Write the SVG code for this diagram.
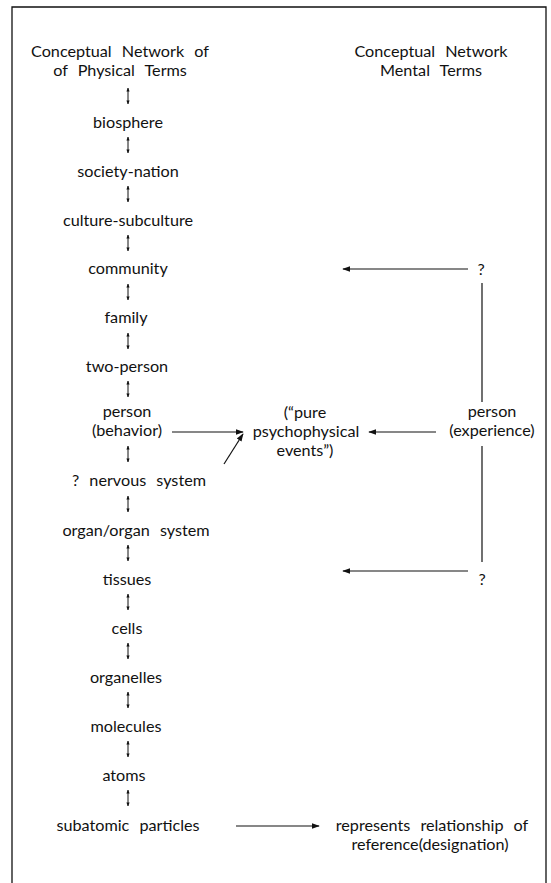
<svg xmlns="http://www.w3.org/2000/svg" width="551" height="883" viewBox="0 0 551 883">
<defs>
<marker id="ah" viewBox="0 0 10 10" refX="9" refY="5" markerWidth="8" markerHeight="8" markerUnits="userSpaceOnUse" orient="auto-start-reverse">
<path d="M0,1.5 L10,5 L0,8.5 z" fill="#111"/>
</marker>
<marker id="sm" viewBox="0 0 10 10" refX="9" refY="5" markerWidth="4" markerHeight="4" markerUnits="userSpaceOnUse" orient="auto-start-reverse">
<path d="M0,1 L10,5 L0,9 z" fill="#111"/>
</marker>
</defs>
<style>
text{font-family:Lato,"Open Sans",sans-serif;font-size:16.2px;fill:#111;text-anchor:middle;word-spacing:6px}
.ln{stroke:#111;stroke-width:1.2;fill:none}
.va{stroke:#111;stroke-width:1;fill:none}
.frame{stroke:#111;stroke-width:1.3;fill:none}
</style>
<rect width="551" height="883" fill="#fff"/>
<path class="frame" d="M12,884 L12,7 L546,7 L546,884"/>

<g id="hdr-physical"><text x="120" y="57">Conceptual Network of</text><text x="120" y="76">of Physical Terms</text></g>
<g id="hdr-mental"><text x="431" y="57">Conceptual Network</text><text x="431" y="76">Mental Terms</text></g>

<g id="n-biosphere"><text x="128" y="128">biosphere</text></g>
<g id="n-society"><text x="128" y="177">society-nation</text></g>
<g id="n-culture"><text x="128" y="226">culture-subculture</text></g>
<g id="n-community"><text x="128" y="274">community</text></g>
<g id="n-family"><text x="126" y="323">family</text></g>
<g id="n-twoperson"><text x="127" y="372">two-person</text></g>
<g id="n-person-b"><text x="127" y="417">person</text><text x="127" y="436">(behavior)</text></g>
<g id="n-nervous"><text x="139" y="486">? nervous system</text></g>
<g id="n-organ"><text x="136" y="536">organ/organ system</text></g>
<g id="n-tissues"><text x="127" y="585">tissues</text></g>
<g id="n-cells"><text x="127" y="634">cells</text></g>
<g id="n-organelles"><text x="126" y="683">organelles</text></g>
<g id="n-molecules"><text x="126" y="732">molecules</text></g>
<g id="n-atoms"><text x="124" y="781">atoms</text></g>
<g id="n-subatomic"><text x="128" y="831">subatomic particles</text></g>

<g id="n-pure"><text x="305" y="418">(“pure</text><text x="306" y="437">psychophysical</text><text x="305" y="456">events”)</text></g>
<g id="n-person-e"><text x="492" y="417">person</text><text x="492" y="436">(experience)</text></g>
<g id="n-q1"><text x="481" y="275">?</text></g>
<g id="n-q2"><text x="482" y="585">?</text></g>
<g id="n-ref"><text x="432" y="831">represents relationship of</text><text x="430" y="850">reference(designation)</text></g>

<g id="connectors">
<line class="va" x1="128" y1="88" x2="128" y2="104" marker-start="url(#sm)" marker-end="url(#sm)"/>
<line class="va" x1="128" y1="137" x2="128" y2="153" marker-start="url(#sm)" marker-end="url(#sm)"/>
<line class="va" x1="128" y1="186" x2="128" y2="202" marker-start="url(#sm)" marker-end="url(#sm)"/>
<line class="va" x1="128" y1="235" x2="128" y2="251" marker-start="url(#sm)" marker-end="url(#sm)"/>
<line class="va" x1="128" y1="284" x2="128" y2="300" marker-start="url(#sm)" marker-end="url(#sm)"/>
<line class="va" x1="128" y1="333" x2="128" y2="349" marker-start="url(#sm)" marker-end="url(#sm)"/>
<line class="va" x1="128" y1="381" x2="128" y2="397" marker-start="url(#sm)" marker-end="url(#sm)"/>
<line class="va" x1="128" y1="446" x2="128" y2="462" marker-start="url(#sm)" marker-end="url(#sm)"/>
<line class="va" x1="128" y1="496" x2="128" y2="512" marker-start="url(#sm)" marker-end="url(#sm)"/>
<line class="va" x1="128" y1="545" x2="128" y2="561" marker-start="url(#sm)" marker-end="url(#sm)"/>
<line class="va" x1="128" y1="594" x2="128" y2="610" marker-start="url(#sm)" marker-end="url(#sm)"/>
<line class="va" x1="128" y1="643" x2="128" y2="659" marker-start="url(#sm)" marker-end="url(#sm)"/>
<line class="va" x1="128" y1="692" x2="128" y2="708" marker-start="url(#sm)" marker-end="url(#sm)"/>
<line class="va" x1="128" y1="741" x2="128" y2="757" marker-start="url(#sm)" marker-end="url(#sm)"/>
<line class="va" x1="128" y1="790" x2="128" y2="806" marker-start="url(#sm)" marker-end="url(#sm)"/>

<line class="ln" x1="172" y1="432" x2="243" y2="432" marker-end="url(#ah)"/>
<line class="ln" x1="224" y1="464" x2="243" y2="434" marker-end="url(#ah)"/>
<line class="ln" x1="436" y1="432" x2="369" y2="432" marker-end="url(#ah)"/>
<line class="ln" x1="468" y1="269" x2="343" y2="269" marker-end="url(#ah)"/>
<line class="ln" x1="468" y1="571" x2="343" y2="571" marker-end="url(#ah)"/>
<line class="ln" x1="482" y1="283" x2="482" y2="402"/>
<line class="ln" x1="482" y1="446" x2="482" y2="562"/>
<line class="ln" x1="236" y1="826" x2="319" y2="826" marker-end="url(#ah)"/>
</g>
</svg>
